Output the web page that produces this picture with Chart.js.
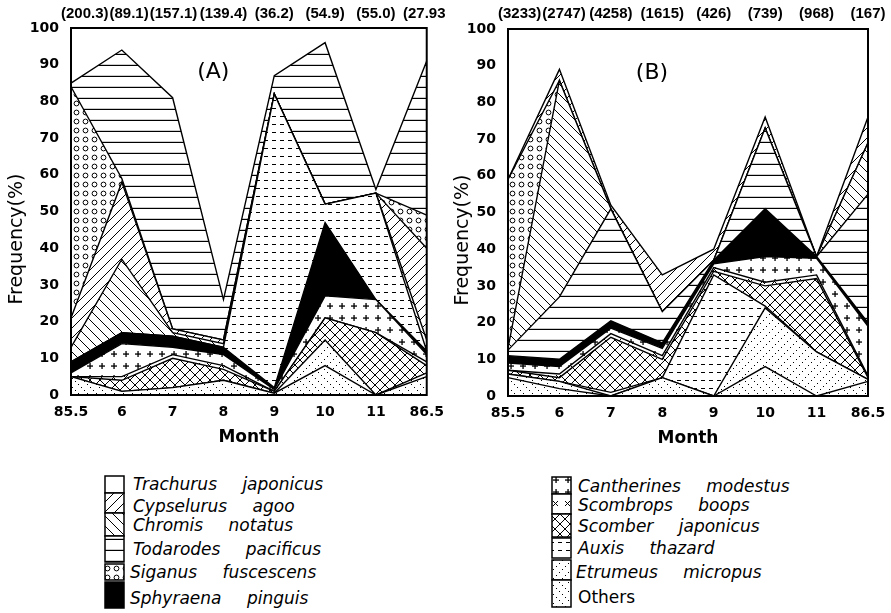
<!DOCTYPE html>
<html>
<head>
<meta charset="utf-8">
<script src="https://cdn.jsdelivr.net/npm/chart.js@4.4.1/dist/chart.umd.min.js"></script>
<style>
  body { margin: 0; background: #fff; width: 891px; height: 613px; position: relative; overflow: hidden; font-family: "DejaVu Sans", sans-serif; color: #000; }
  #boxA { position: absolute; left: 0; top: 0; }
  #boxB { position: absolute; left: 445px; top: 0; }
  .leg { position: absolute; font-style: italic; font-size: 17px; word-spacing: 20px; white-space: nowrap; line-height: 20px; }
  .sw { position: absolute; }
</style>
</head>
<body>
<div id="boxA"><canvas id="chartA" width="445" height="450"></canvas></div>
<div id="boxB"><canvas id="chartB" width="446" height="451"></canvas></div>

<canvas class="sw" id="swLeft" width="24" height="136" style="left:103px;top:474px"></canvas>
<canvas class="sw" id="swRight" width="24" height="136" style="left:550px;top:474px"></canvas>

<div class="leg" style="left:133px;top:474px">Trachurus japonicus</div>
<div class="leg" style="left:133px;top:496px">Cypselurus agoo</div>
<div class="leg" style="left:133px;top:515px">Chromis notatus</div>
<div class="leg" style="left:133px;top:539px">Todarodes pacificus</div>
<div class="leg" style="left:130px;top:562px">Siganus fuscescens</div>
<div class="leg" style="left:130px;top:588px">Sphyraena pinguis</div>

<div class="leg" style="left:578px;top:476px">Cantherines modestus</div>
<div class="leg" style="left:578px;top:495px">Scombrops boops</div>
<div class="leg" style="left:578px;top:516px">Scomber japonicus</div>
<div class="leg" style="left:578px;top:538px">Auxis thazard</div>
<div class="leg" style="left:576px;top:562px">Etrumeus micropus</div>
<div class="leg" style="left:578px;top:587px;font-style:normal">Others</div>

<script>
// ---- data ----
const months = ['85.5', '6', '7', '8', '9', '10', '11', '86.5'];
const countsA = ['(200.3)', '(89.1)', '(157.1)', '(139.4)', '(36.2)', '(54.9)', '(55.0)', '(27.93)'];
const countsB = ['(3233)', '(2747)', '(4258)', '(1615)', '(426)', '(739)', '(968)', '(167)'];

// (A) frequency %
const othersA      = [5, 1, 2, 4, 0.5, 8, 0, 5];
const etrumeusA    = [0, 0, 0, 0, 0, 7, 0, 1];
const scomberA     = [0, 3, 8, 3, 0.5, 6, 17, 2];
const scombropsA   = [0, 1, 1, 1, 0, 0, 0, 1];
const cantherinesA = [1, 9, 2, 3, 0.5, 6, 9, 2];
const sphyraenaA   = [3, 3, 3, 2, 0.5, 20, 0, 1];
const auxisA       = [0, 0, 0, 0, 80, 5, 29, 0];
const chromisA     = [4, 20, 1, 1, 0, 0, 0, 3];
const cypselurusA  = [8, 21, 1, 1, 0, 0, 0, 25];
const siganusA     = [63, 1, 0, 0, 0, 0, 0, 9];
const todarodesA   = [1, 35, 63, 11, 5, 44, 1, 42];
const trachurusA   = [15, 6, 19, 74, 13, 4, 44, 9];

// (B) frequency %
const othersB      = [5, 2, 0, 5, 0, 8, 0, 4];
const etrumeusB    = [1, 2, 0, 0, 0, 16, 12, 0.5];
const auxisB       = [0, 0, 1, 0, 33, 0.5, 0, 0];
const scomberB     = [1, 1, 15, 5, 1, 5.5, 20, 0.5];
const scombropsB   = [0, 1, 1, 1, 1, 1, 1, 0.5];
const cantherinesB = [2, 2, 1.5, 2, 1, 7, 4.5, 13.5];
const sphyraenaB   = [2, 2, 2, 1.5, 1, 13, 0.5, 1];
const todarodesB   = [1.5, 17, 30.5, 8.5, 0, 22, 0, 35];
const chromisB     = [0.5, 59, 0, 0, 0, 0, 0, 14];
const siganusB     = [46, 0, 0, 0, 0, 0, 0, 0];
const cypselurusB  = [0, 3, 1, 10, 3, 3, 0, 7];
const trachurusB   = [41, 11, 48, 67, 60, 24, 62, 24];

// ---- hatch patterns ----
function makePattern(kind) {
  const sizes = { hl: 11, fwd: 10, back: 10, xh: 10, circ: 9, plus: 12, xm: 12, dash: 8, dfwd: 9, dback: 9, white: 4, black: 4 };
  const s = sizes[kind];
  const c = document.createElement('canvas');
  c.width = s; c.height = s;
  const g = c.getContext('2d');
  g.fillStyle = '#fff';
  g.fillRect(0, 0, s, s);
  g.fillStyle = '#000';
  g.strokeStyle = '#000';
  g.lineWidth = 1;
  const diag = (dir) => {
    g.beginPath();
    if (dir > 0) {
      g.moveTo(0, s); g.lineTo(s, 0);
      g.moveTo(-2, 2); g.lineTo(2, -2);
      g.moveTo(s - 2, s + 2); g.lineTo(s + 2, s - 2);
    } else {
      g.moveTo(0, 0); g.lineTo(s, s);
      g.moveTo(-2, s - 2); g.lineTo(2, s + 2);
      g.moveTo(s - 2, -2); g.lineTo(s + 2, 2);
    }
    g.stroke();
  };
  if (kind == 'black') g.fillRect(0, 0, s, s);
  if (kind == 'hl') g.fillRect(0, s - 1.2, s, 1.2);
  if (kind == 'fwd') diag(1);
  if (kind == 'back') diag(-1);
  if (kind == 'xh') { diag(1); diag(-1); }
  if (kind == 'circ') { g.beginPath(); g.arc(s / 2, s / 2, 2.4, 0, Math.PI * 2); g.stroke(); }
  if (kind == 'plus') { g.fillRect(s / 2 - 3, s / 2 - 0.6, 6, 1.3); g.fillRect(s / 2 - 0.6, s / 2 - 3, 1.3, 6); }
  if (kind == 'xm') { g.beginPath(); g.moveTo(3, 3); g.lineTo(8, 8); g.moveTo(8, 3); g.lineTo(3, 8); g.stroke(); }
  if (kind == 'dash') g.fillRect(0, 4, 4, 1);
  if (kind == 'dfwd') { for (let i = 0; i < s; i += 3) g.fillRect(i, s - 1 - i, 1, 1); }
  if (kind == 'dback') { for (let i = 0; i < s; i += 3) g.fillRect(i, i, 1, 1); }
  return g.createPattern(c, 'repeat');
}

const pats = {
  'Trachurus japonicus': makePattern('white'),
  'Cypselurus agoo': makePattern('fwd'),
  'Chromis notatus': makePattern('back'),
  'Todarodes pacificus': makePattern('hl'),
  'Siganus fuscescens': makePattern('circ'),
  'Sphyraena pinguis': makePattern('black'),
  'Cantherines modestus': makePattern('plus'),
  'Scombrops boops': makePattern('xm'),
  'Scomber japonicus': makePattern('xh'),
  'Auxis thazard': makePattern('dash'),
  'Etrumeus micropus': makePattern('dfwd'),
  'Others': makePattern('dback')
};

// stacking order, bottom to top
const stackA = [
  ['Others', othersA], ['Etrumeus micropus', etrumeusA], ['Scomber japonicus', scomberA],
  ['Scombrops boops', scombropsA], ['Cantherines modestus', cantherinesA], ['Sphyraena pinguis', sphyraenaA],
  ['Auxis thazard', auxisA], ['Chromis notatus', chromisA], ['Cypselurus agoo', cypselurusA],
  ['Siganus fuscescens', siganusA], ['Todarodes pacificus', todarodesA], ['Trachurus japonicus', trachurusA]
];
const stackB = [
  ['Others', othersB], ['Etrumeus micropus', etrumeusB], ['Auxis thazard', auxisB],
  ['Scomber japonicus', scomberB], ['Scombrops boops', scombropsB], ['Cantherines modestus', cantherinesB],
  ['Sphyraena pinguis', sphyraenaB], ['Todarodes pacificus', todarodesB], ['Chromis notatus', chromisB],
  ['Siganus fuscescens', siganusB], ['Cypselurus agoo', cypselurusB], ['Trachurus japonicus', trachurusB]
];

function buildSets(stack) {
  return stack.map(([name, vals], i) => ({
    label: name,
    data: vals,
    fill: i === 0 ? 'origin' : '-1',
    backgroundColor: pats[name],
    borderColor: '#000',
    borderWidth: name == 'Trachurus japonicus' ? 0 : 1.4,
    pointRadius: 0,
    tension: 0
  }));
}

const tickFont = { family: 'DejaVu Sans', size: 14, weight: 'bold' };

function decor(tag, counts, yTitleX) {
  return {
    id: 'decor' + tag,
    afterDraw(chart) {
      const { ctx, chartArea: a } = chart;
      ctx.save();
      ctx.strokeStyle = '#000';
      ctx.lineWidth = 2;
      ctx.strokeRect(a.left, a.top, a.right - a.left, a.bottom - a.top);
      ctx.fillStyle = '#000';
      // sample sizes across the top
      ctx.font = 'bold 15px "Liberation Sans"';
      ctx.textBaseline = 'middle';
      ctx.textAlign = 'center';
      const xs = chart.scales.x;
      let prevRight = a.left - 11;
      counts.forEach((t, i) => {
        const w = ctx.measureText(t).width;
        const cx = Math.max(xs.getPixelForValue(i), prevRight + w / 2 + 1);
        ctx.fillText(t, cx, 14);
        prevRight = cx + w / 2;
      });
      // panel tag
      ctx.font = '22px "DejaVu Sans"';
      ctx.fillText('(' + tag + ')', a.left + (a.right - a.left) * 0.4, a.top + 44);
      // y title
      ctx.font = '19px "DejaVu Sans"';
      ctx.translate(yTitleX, a.top + (a.bottom - a.top) * 0.575);
      ctx.rotate(-Math.PI / 2);
      ctx.fillText('Frequency(%)', 0, 0);
      ctx.restore();
    }
  };
}

function makeChart(id, stack, counts, tag, yWidth, pad, yTitleX) {
  return new Chart(document.getElementById(id).getContext('2d'), {
    type: 'line',
    data: { labels: months, datasets: buildSets(stack) },
    options: {
      responsive: false,
      animation: false,
      layout: { padding: pad },
      plugins: { legend: { display: false }, tooltip: { enabled: false } },
      scales: {
        x: {
          grid: { display: false },
          border: { display: false },
          ticks: { font: tickFont, color: '#000', padding: 1, maxRotation: 0, autoSkip: false },
          title: { display: true, text: 'Month', color: '#000', font: { family: 'DejaVu Sans', size: 17, weight: '600' }, padding: { top: 4, bottom: 2 } },
          afterFit(s) { s.height = 55; }
        },
        y: {
          stacked: true,
          min: 0,
          max: 100,
          grid: { display: false },
          border: { display: false },
          ticks: { stepSize: 10, font: tickFont, color: '#000', padding: 4 },
          afterFit(s) { s.width = yWidth; }
        }
      }
    },
    plugins: [decor(tag, counts, yTitleX)]
  });
}

makeChart('chartA', stackA, countsA, 'A', 71, { top: 28, right: 15, left: 0, bottom: 0 }, 17);
makeChart('chartB', stackB, countsB, 'B', 63, { top: 29, right: 23, left: 0, bottom: 0 }, 18);

// legend swatch columns
function drawSwatches(id, rows) {
  const g = document.getElementById(id).getContext('2d');
  g.lineWidth = 1.5;
  g.strokeStyle = '#000';
  rows.forEach(([name, y0, y1]) => {
    g.fillStyle = pats[name];
    g.fillRect(2, y0, 19, y1 - y0);
    g.strokeRect(2, y0, 19, y1 - y0);
  });
}
drawSwatches('swLeft', [
  ['Trachurus japonicus', 2, 19], ['Cypselurus agoo', 19, 39], ['Chromis notatus', 39, 62],
  ['Todarodes pacificus', 62, 88], ['Siganus fuscescens', 90, 106], ['Sphyraena pinguis', 108, 134]
]);
drawSwatches('swRight', [
  ['Cantherines modestus', 3, 20], ['Scombrops boops', 20, 40], ['Scomber japonicus', 40, 63],
  ['Auxis thazard', 64, 84], ['Etrumeus micropus', 86, 106], ['Others', 106, 133]
]);
</script>
</body>
</html>
